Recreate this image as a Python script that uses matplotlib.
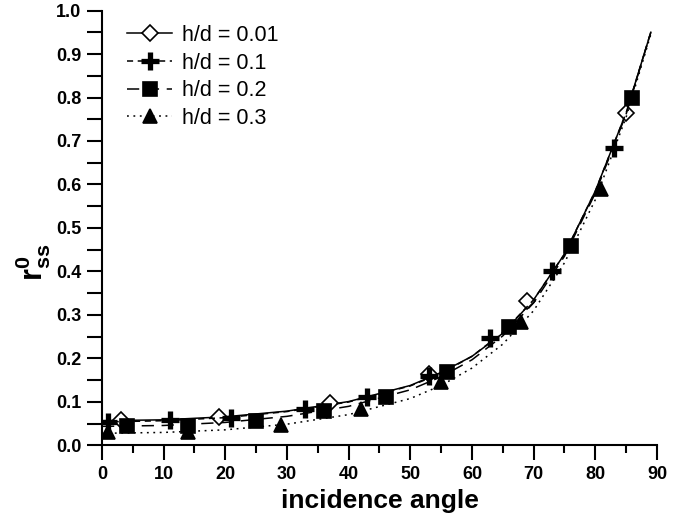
import matplotlib
matplotlib.use('Agg')
import matplotlib.pyplot as plt
from matplotlib.lines import Line2D
from matplotlib.ticker import MultipleLocator

plt.rcParams['font.family'] = ['Liberation Sans', 'DejaVu Sans']
plt.rcParams['mathtext.fontset'] = 'custom'
plt.rcParams['mathtext.rm'] = 'Liberation Sans'
plt.rcParams['mathtext.bf'] = 'Liberation Sans:bold'

labels = ['h/d = 0.01', 'h/d = 0.1', 'h/d = 0.2', 'h/d = 0.3']

# smooth curves
curve_x = [0, 10, 20, 30, 40, 50, 55, 60, 65, 70, 75, 80, 85, 89]
curve_001 = [0.057, 0.059, 0.066, 0.079, 0.101, 0.138, 0.168, 0.205, 0.258, 0.335, 0.44, 0.585, 0.765, 0.95]
curve_01 = [0.054, 0.057, 0.064, 0.078, 0.100, 0.137, 0.166, 0.205, 0.26, 0.335, 0.44, 0.585, 0.765, 0.95]
curve_02 = [0.044, 0.046, 0.053, 0.067, 0.090, 0.128, 0.158, 0.197, 0.252, 0.328, 0.435, 0.58, 0.762, 0.95]
curve_03 = [0.028, 0.030, 0.036, 0.049, 0.071, 0.108, 0.138, 0.178, 0.233, 0.31, 0.42, 0.565, 0.755, 0.945]

# marker positions
mx_001 = [3, 19, 37, 53, 69, 85]
my_001 = [0.058, 0.066, 0.098, 0.164, 0.332, 0.765]
mx_01 = [1, 11, 21, 33, 43, 53, 63, 73, 83]
my_01 = [0.055, 0.058, 0.064, 0.085, 0.112, 0.16, 0.247, 0.40, 0.685]
mx_02 = [4, 14, 25, 36, 46, 56, 66, 76, 86]
my_02 = [0.044, 0.044, 0.057, 0.08, 0.112, 0.17, 0.273, 0.458, 0.80]
mx_03 = [1, 14, 29, 42, 55, 68, 81]
my_03 = [0.03, 0.032, 0.048, 0.083, 0.147, 0.283, 0.59]

fig = plt.figure(figsize=(6.92, 5.2), dpi=100)
ax = fig.add_axes([0.1474, 0.1433, 0.802, 0.8365])

styles = [
    dict(ls='-', marker='D', mfc='white', ms=8.5, mew=1.2),
    dict(ls=(0, (4, 3)), marker='+', mfc='black', ms=13, mew=3.8),
    dict(ls=(0, (8, 5)), marker='s', mfc='black', ms=10, mew=1.2),
    dict(ls=(0, (1.2, 3)), marker='^', mfc='black', ms=10, mew=1.2),
]
curves = [curve_001, curve_01, curve_02, curve_03]
marks = [(mx_001, my_001), (mx_01, my_01), (mx_02, my_02), (mx_03, my_03)]

handles = []
for cy, (mx, my), st in zip(curves, marks, styles):
    ax.plot(curve_x, cy, color='black', lw=1.1, linestyle=st['ls'])
    ax.plot(mx, my, ls='none', marker=st['marker'], ms=st['ms'],
            mfc=st['mfc'], mec='black', mew=st['mew'])
    handles.append(Line2D([], [], color='black', lw=1.1, linestyle=st['ls'],
                          marker=st['marker'], ms=st['ms'], mfc=st['mfc'],
                          mec='black', mew=st['mew']))

ax.set_xlim(0, 90)
ax.set_ylim(0, 1.0)
ax.xaxis.set_major_locator(MultipleLocator(10))
ax.xaxis.set_minor_locator(MultipleLocator(5))
ax.yaxis.set_major_locator(MultipleLocator(0.1))
ax.yaxis.set_minor_locator(MultipleLocator(0.05))
ax.yaxis.set_major_formatter(matplotlib.ticker.FormatStrFormatter('%.1f'))

for s in ['top', 'right']:
    ax.spines[s].set_visible(False)
for s in ['left', 'bottom']:
    ax.spines[s].set_linewidth(1.5)

ax.tick_params(which='major', direction='out', length=11, width=1.5,
               labelsize=13, pad=4)
ax.tick_params(axis='x', which='minor', direction='out', length=6, width=1.5)
ax.tick_params(axis='y', which='minor', direction='out', length=11, width=1.5)
for lab in ax.get_xticklabels() + ax.get_yticklabels():
    lab.set_fontweight('bold')

ax.set_xlabel('incidence angle', fontsize=19, fontweight='bold', labelpad=4)
fig.text(33 / 692, 1 - 262 / 520, r'$\mathbf{r}_{\mathbf{ss}}^{\mathbf{0}}$',
         rotation=90, ha='center', va='center', fontsize=22)

ax.legend(handles, labels, loc='upper left', bbox_to_anchor=(127 / 692, 1 - 25 / 520),
          bbox_transform=fig.transFigure, frameon=False, fontsize=15.5,
          handlelength=2.1, handletextpad=0.45, labelspacing=0.31, borderpad=0,
          borderaxespad=0)

fig.savefig('out.png', dpi=100)
